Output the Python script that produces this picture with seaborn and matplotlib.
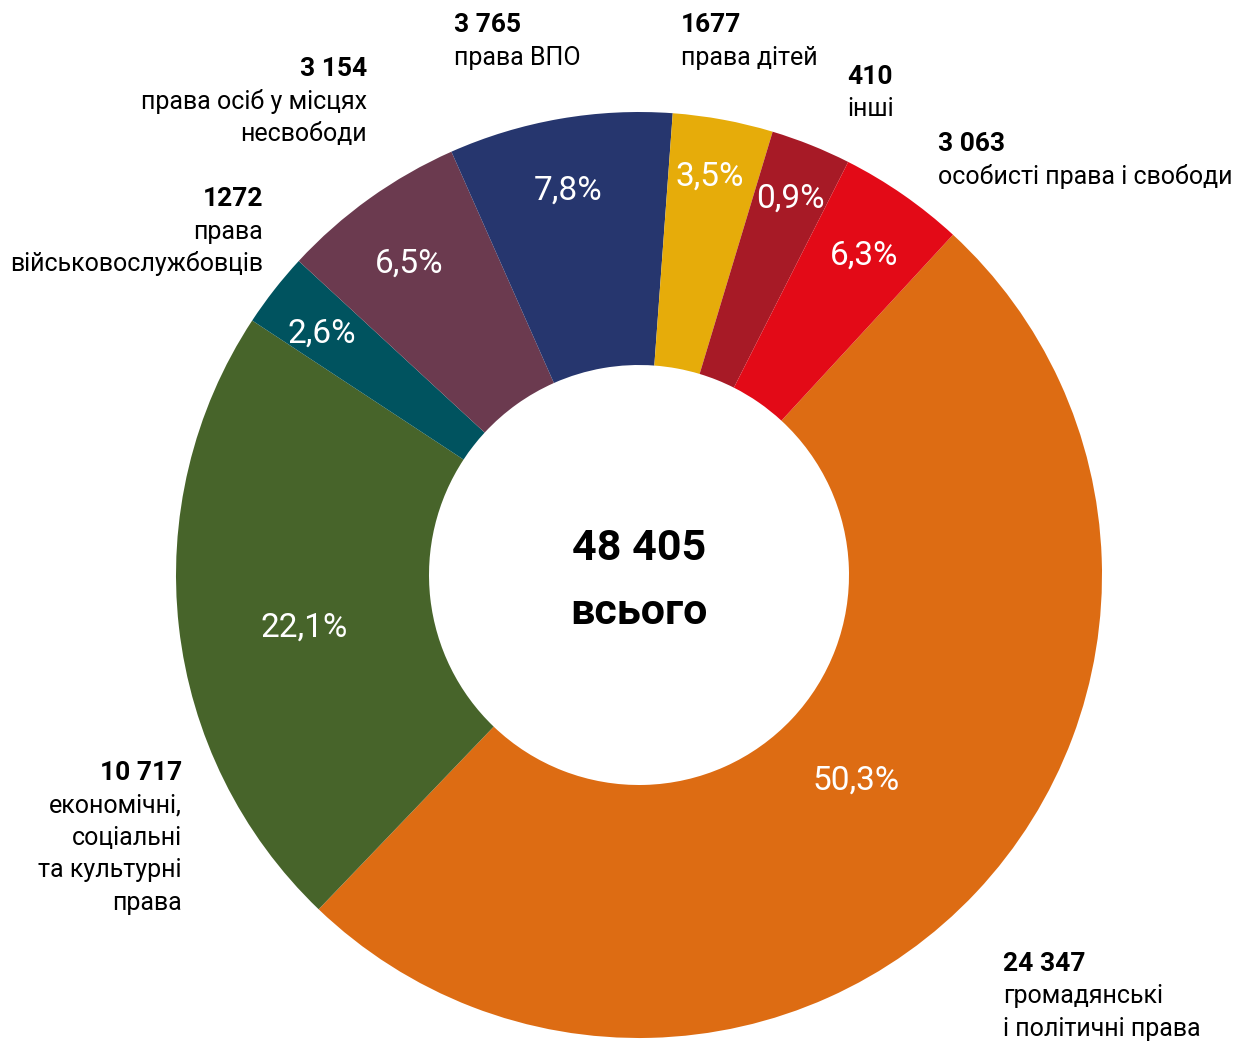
import matplotlib
matplotlib.use("Agg")
import matplotlib.pyplot as plt
import seaborn as sns
import numpy as np

# ---------------- data ----------------
categories = [
    "громадянські\nі політичні права",
    "економічні,\nсоціальні\nта культурні\nправа",
    "права\nвійськовослужбовців",
    "права осіб у місцях\nнесвободи",
    "права ВПО",
    "права дітей",
    "інші",
    "особисті права і свободи",
]
counts = ["24 347", "10 717", "1272", "3 154", "3 765", "1677", "410", "3 063"]
pct_labels = ["50,3%", "22,1%", "2,6%", "6,5%", "7,8%", "3,5%", "0,9%", "6,3%"]
# slice sizes as drawn in the picture (percent of the ring)
slice_share = [50.3, 22.1, 2.6, 6.5, 7.8, 3.5, 2.8, 4.4]
total_value = "48 405"
total_label = "всього"
colors = ["#DD6C13", "#47642A", "#00535F", "#6B3A4F",
          "#26366E", "#E6AC0A", "#A71A26", "#E30A17"]

# ---------------- style ----------------
sns.set_theme(style="white")
FAM = ["Roboto", "DejaVu Sans"]
plt.rcParams["font.family"] = FAM

W, H = 1247, 1043
fig = plt.figure(figsize=(W / 100, H / 100), dpi=100)
ax = fig.add_axes([0, 0, 1, 1])

def py(y):
    return H - y

cx, cy, R, r_in = 639, 575, 463, 210
wedges, _ = ax.pie(
    slice_share,
    colors=sns.color_palette(colors),
    startangle=47.3,
    counterclock=False,
    radius=R,
    center=(cx, py(cy)),
    wedgeprops=dict(width=R - r_in, linewidth=0),
)
ax.set_xlim(0, W)
ax.set_ylim(0, H)
ax.set_aspect("equal")
ax.axis("off")

# label radius and small angular nudge (deg, counter-clockwise)
label_r = [297, 338, 401, 389, 394, 408, 408, 393]
label_dth = [0.1, 2.0, 0.4, 0.6, 0.5, 0.5, 0.1, -0.1]
for w, lab, rr, dth in zip(wedges, pct_labels, label_r, label_dth):
    th = np.deg2rad((w.theta1 + w.theta2) / 2 + dth)
    ax.text(cx + rr * np.cos(th), py(cy) + rr * np.sin(th) - 3, lab,
            color="white", fontsize=24, ha="center", va="center")

# center text
ax.text(cx, py(549), total_value, fontsize=31, fontweight="bold",
        ha="center", va="center", color="black")
ax.text(cx, py(613), total_label, fontsize=31, fontweight="bold",
        ha="center", va="center", color="black")

# external labels: (x, y_number, ha)
ext = [
    (1003, 964, "left"),
    (182, 773, "right"),
    (263, 199, "right"),
    (367, 69, "right"),
    (454, 25, "left"),
    (681, 25, "left"),
    (847, 77, "left"),
    (938, 144, "left"),
]
LS = 32.5
for (x, y, ha), cnt, cat in zip(ext, counts, categories):
    ax.text(x, py(y), cnt, fontsize=19, fontweight="bold", ha=ha,
            va="center", color="black")
    for i, line in enumerate(cat.split("\n")):
        ax.text(x, py(y + LS * (i + 1)), line, fontsize=18, ha=ha,
                va="center", color="black")

fig.savefig("out.png", dpi=100, facecolor="white")
